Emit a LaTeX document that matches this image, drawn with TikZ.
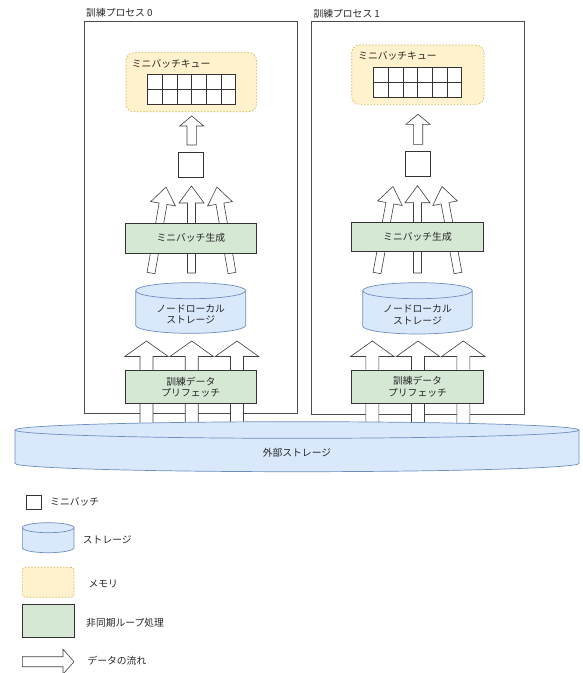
\documentclass[tikz,border=0pt]{standalone}
\usepackage{fontspec}
\setmainfont{Noto Sans CJK JP}
\usepackage{xcolor}
\usetikzlibrary{calc,positioning}

\definecolor{memfill}{HTML}{FFF2CC}
\definecolor{memline}{HTML}{D6B656}
\definecolor{stofill}{HTML}{DAE8FC}
\definecolor{stoline}{HTML}{6C8EBF}
\definecolor{loopfill}{HTML}{D5E8D4}

\tikzset{
  lbl/.style={inner sep=0pt, font=\fontsize{9.8}{11.5}\selectfont, align=center, text=black!85},
  procbox/.style={draw=black!70, line width=0.8pt},
  loopbox/.style={draw=black!80, fill=loopfill, line width=0.8pt, lbl},
  membox/.style={draw=memline, fill=memfill, dash pattern=on 1.6pt off 1.6pt, rounded corners=8pt, line width=0.7pt},
  batchbox/.style={draw=black!80, fill=white, line width=0.8pt, inner sep=0pt},
  cell/.style={draw=black!80, fill=white, line width=0.8pt},
  storage/.style={draw=stoline, fill=stofill, line width=0.7pt},
  % block arrow: half shaft width, half head width, head length
  flow/.style n args={3}{draw=black!75, fill=white, line width=0.6pt, line join=miter,
    to path={
      ($(\tikztostart)!#1!90:(\tikztotarget)$)
      -- ($($(\tikztotarget)!#3!(\tikztostart)$)!#1!90:(\tikztotarget)$)
      -- ($($(\tikztotarget)!#3!(\tikztostart)$)!#2!90:(\tikztotarget)$)
      -- (\tikztotarget)
      -- ($($(\tikztotarget)!#3!(\tikztostart)$)!#2!-90:(\tikztotarget)$)
      -- ($($(\tikztotarget)!#3!(\tikztostart)$)!#1!-90:(\tikztotarget)$)
      -- ($(\tikztostart)!#1!-90:(\tikztotarget)$)
      -- cycle}},
  thinflow/.style={flow={4pt}{12.5pt}{17pt}},
  wideflow/.style={flow={6.5pt}{21.7pt}{15.5pt}},
  queueflow/.style={flow={4.7pt}{12pt}{10pt}},
}

% cylinder: centre x, top y, width, height, ellipse radius
\newcommand{\cylinder}[5]{%
  \draw[storage] (#1-#3/2,#2+#5) -- (#1-#3/2,#2+#4-#5)
    arc[start angle=180,end angle=0,x radius=#3/2,y radius=#5]
    -- (#1+#3/2,#2+#5)
    arc[start angle=0,end angle=-180,x radius=#3/2,y radius=#5] -- cycle;
  \draw[storage,fill=none] (#1-#3/2,#2+#5)
    arc[start angle=180,end angle=0,x radius=#3/2,y radius=#5];
}

\begin{document}
\begin{tikzpicture}[x=1pt,y=1pt,yscale=-1,xscale=1]
\useasboundingbox (0,0) rectangle (582,673);

%Shape: Rectangle [process 0]
\draw[procbox] (84.7,21.3) rectangle (297,413.3);
\node[lbl,anchor=west] (title0) at (86,13) {訓練プロセス 0};
%Shape: Rectangle [process 1]
\draw[procbox] (311.7,21.7) rectangle (524,414);
\node[lbl,anchor=west] (title1) at (313.3,14) {訓練プロセス 1};

%Queues
\node[membox,minimum width=130.7pt,minimum height=59pt] (queue0) at (191.3,82.2) {};
\node[lbl,anchor=west] (qlabel0) at (131.7,64) {ミニバッチキュー};
\foreach \i in {0,...,5}
  \foreach \j in {0,1}
    \draw[cell] (147.5+\i*14.7,74.5+\j*14.75) rectangle ++(14.7,14.75);

\node[membox,minimum width=132.3pt,minimum height=59.3pt] (queue1) at (417.8,74.7) {};
\node[lbl,anchor=west] (qlabel1) at (358,56) {ミニバッチキュー};
\foreach \i in {0,...,5}
  \foreach \j in {0,1}
    \draw[cell] (373.5+\i*14.7,67.5+\j*14.75) rectangle ++(14.7,14.75);

%Mini-batches and arrows into the queues
\node[batchbox,minimum size=25pt] (batch0) at (190.8,165) {};
\coordinate (q0from) at (191.7,145);
\coordinate (q0to) at (191.7,116);
\draw[queueflow] (q0from) to (q0to);

\node[batchbox,minimum size=25pt] (batch1) at (417.8,163.7) {};
\coordinate (q1from) at (418,144.3);
\coordinate (q1to) at (418,114.3);
\draw[queueflow] (q1from) to (q1to);

%Arrows through mini-batch generation
\coordinate (g0la) at (151,273);   \coordinate (g0lb) at (166,187);
\coordinate (g0ma) at (191.5,273); \coordinate (g0mb) at (191.5,186);
\coordinate (g0ra) at (232,273);   \coordinate (g0rb) at (217,187);
\draw[thinflow] (g0la) to (g0lb);
\draw[thinflow] (g0ma) to (g0mb);
\draw[thinflow] (g0ra) to (g0rb);

\coordinate (g1la) at (377,273);   \coordinate (g1lb) at (393,186.5);
\coordinate (g1ma) at (417.5,273); \coordinate (g1mb) at (417.5,185.7);
\coordinate (g1ra) at (458,273);   \coordinate (g1rb) at (442,186.5);
\draw[thinflow] (g1la) to (g1lb);
\draw[thinflow] (g1ma) to (g1mb);
\draw[thinflow] (g1ra) to (g1rb);

\node[loopbox,minimum width=131.7pt,minimum height=30pt] (gen0) at (190.8,238.3) {ミニバッチ生成};
\node[loopbox,minimum width=131.7pt,minimum height=29pt] (gen1) at (417.5,237.2) {ミニバッチ生成};

%Node-local storage
\cylinder{190.7}{282.7}{110}{50.6}{8}
\node[lbl] (local0) at (190.7,314.5) {ノードローカル\\ストレージ};
\cylinder{417.5}{282.7}{109.6}{51.3}{8}
\node[lbl] (local1) at (417.5,315) {ノードローカル\\ストレージ};

%Arrows through prefetch
\foreach \x [count=\k] in {146.5,191.7,237,372.3,418,463.3} {
  \coordinate (pa\k) at (\x,426);
  \coordinate (pb\k) at (\x,341);
  \draw[wideflow] (pa\k) to (pb\k);
}

\node[loopbox,minimum width=131.7pt,minimum height=32.6pt] (fetch0) at (190.8,387) {訓練データ\\プリフェッチ};
\node[loopbox,minimum width=131.7pt,minimum height=33.3pt] (fetch1) at (417.5,386.7) {訓練データ\\プリフェッチ};

%External storage
\cylinder{297}{421.7}{564}{50}{8.3}
\node[lbl] (extern) at (297,453) {外部ストレージ};

%Legend
\node[batchbox,minimum size=14.3pt] (keybatch) at (33.8,502.2) {};
\node[lbl,anchor=west] (keybatchtxt) at (50,502) {ミニバッチ};
\cylinder{48.2}{522.7}{51.7}{30}{5}
\node[lbl,anchor=west] (keystotxt) at (82.7,540) {ストレージ};
\node[membox,rounded corners=3pt,minimum width=51.7pt,minimum height=30pt] (keymem) at (48.2,582.3) {};
\node[lbl,anchor=west] (keymemtxt) at (88.3,584) {メモリ};
\node[loopbox,minimum width=51.7pt,minimum height=33.3pt] (keyloop) at (48.2,620.7) {};
\node[lbl,anchor=west] (keylooptxt) at (86,622.7) {非同期ループ処理};
\coordinate (keyfrom) at (22.3,661.7);
\coordinate (keyto) at (74,661.7);
\draw[flow={5pt}{12.5pt}{11pt}] (keyfrom) to (keyto);
\node[lbl,anchor=west] (keyflowtxt) at (87.3,661) {データの流れ};

\end{tikzpicture}
\end{document}
